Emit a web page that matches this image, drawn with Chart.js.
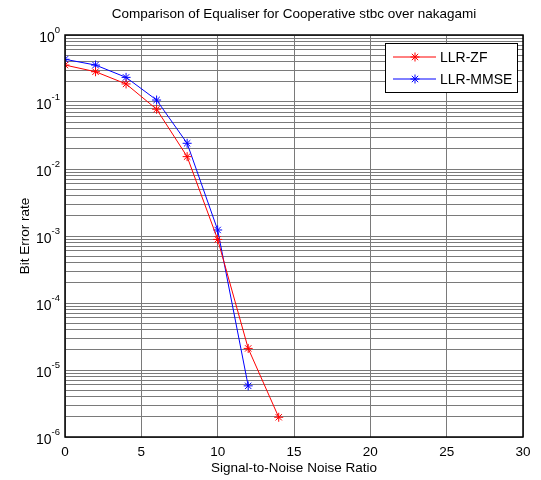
<!DOCTYPE html>
<html>
<head>
<meta charset="utf-8">
<script src="https://cdn.jsdelivr.net/npm/chart.js@4.4.0/dist/chart.umd.min.js"></script>
<style>
  body { margin: 0; background: #fff; }
  #wrap { width: 541px; height: 480px; }
</style>
</head>
<body>
<div id="wrap"><canvas id="myChart" width="541" height="480"></canvas></div>
<script>
// values
var snr = [0, 2, 4, 6, 8, 10, 12, 14];
var berZF = [0.356, 0.283, 0.186, 0.078, 0.0153, 0.00089, 0.000021, 0.00000197];
var berMMSE = [0.434, 0.356, 0.233, 0.107, 0.0242, 0.00123, 0.0000058];
var seriesNames = ["LLR-ZF", "LLR-MMSE"];
var seriesColors = ["#ff0000", "#0000ff"];
var xTicks = [0, 5, 10, 15, 20, 25, 30];
var yExponents = [0, -1, -2, -3, -4, -5, -6];

var titleText = "Comparison of Equaliser for Cooperative stbc over nakagami";
var xTitle = "Signal-to-Noise Noise Ratio";
var yTitle = "Bit Error rate";
var FONT = "'Liberation Sans', Arial, sans-serif";

function toPoints(xs, ys) {
  var pts = [];
  for (var i = 0; i < ys.length; i++) {
    pts.push({ x: xs[i], y: ys[i] });
  }
  return pts;
}

// draw axes box, tick labels, titles and the legend (matlab look)
var matlabDecor = {
  id: "matlabDecor",
  afterDraw: function(chart) {
    var ctx = chart.ctx;
    var area = chart.chartArea;
    var xs = chart.scales.x;
    var ys = chart.scales.y;
    ctx.save();

    // box
    ctx.strokeStyle = "#000";
    ctx.lineWidth = 1.5;
    ctx.strokeRect(area.left, area.top, area.right - area.left, area.bottom - area.top);

    ctx.fillStyle = "#000";
    // x tick labels
    ctx.font = "13.5px " + FONT;
    ctx.textAlign = "center";
    ctx.textBaseline = "top";
    xTicks.forEach(function(t) {
      ctx.fillText(String(t), xs.getPixelForValue(t), area.bottom + 9);
    });

    // y tick labels 10^n
    yExponents.forEach(function(e) {
      var py = ys.getPixelForValue(Math.pow(10, e));
      var expStr = String(e);
      ctx.font = "9.5px " + FONT;
      ctx.textAlign = "right";
      ctx.textBaseline = "alphabetic";
      var ew = ctx.measureText(expStr).width;
      ctx.fillText(expStr, area.left - 5, py - 2);
      ctx.font = "14px " + FONT;
      ctx.fillText("10", area.left - 5 - ew, py + 7);
    });

    // titles
    var cx = (area.left + area.right) / 2;
    ctx.textAlign = "center";
    ctx.textBaseline = "middle";
    ctx.font = "13.5px " + FONT;
    ctx.fillText(titleText, cx, 14);
    ctx.fillText(xTitle, cx, 468);
    ctx.save();
    ctx.translate(25, (area.top + area.bottom) / 2);
    ctx.rotate(-Math.PI / 2);
    ctx.fillText(yTitle, 0, 0);
    ctx.restore();

    // legend
    var lx = 385, ly = 43, lw = 132, lh = 49;
    ctx.fillStyle = "#fff";
    ctx.fillRect(lx, ly, lw, lh);
    ctx.strokeStyle = "#000";
    ctx.lineWidth = 1;
    ctx.strokeRect(lx + 0.5, ly + 0.5, lw, lh);
    ctx.font = "14px " + FONT;
    ctx.textAlign = "left";
    ctx.textBaseline = "middle";
    for (var i = 0; i < seriesNames.length; i++) {
      var rowY = ly + 14 + i * 22;
      ctx.strokeStyle = seriesColors[i];
      ctx.lineWidth = 1;
      ctx.beginPath();
      ctx.moveTo(lx + 8, rowY);
      ctx.lineTo(lx + 51, rowY);
      ctx.stroke();
      Chart.helpers.drawPoint(ctx, { pointStyle: "star", radius: 4.5, borderWidth: 1 }, lx + 30, rowY);
      ctx.fillStyle = "#000";
      ctx.fillText(seriesNames[i], lx + 55, rowY + 1);
    }
    ctx.restore();
  }
};

var yGridTicks = [];
for (var k = -6; k < 0; k++) {
  for (var m = 1; m <= 9; m++) {
    yGridTicks.push(m * Math.pow(10, k));
  }
}
yGridTicks.push(1);

var canvas = document.getElementById("myChart");
var myChart = new Chart(canvas, {
  type: "line",
  data: {
    datasets: [{
      label: seriesNames[0],
      data: toPoints(snr, berZF),
      borderColor: seriesColors[0],
      backgroundColor: seriesColors[0],
      borderWidth: 1,
      pointStyle: "star",
      pointRadius: 4.5,
      pointBorderWidth: 1,
      tension: 0
    }, {
      label: seriesNames[1],
      data: toPoints(snr, berMMSE),
      borderColor: seriesColors[1],
      backgroundColor: seriesColors[1],
      borderWidth: 1,
      pointStyle: "star",
      pointRadius: 4.5,
      pointBorderWidth: 1,
      tension: 0
    }]
  },
  options: {
    responsive: false,
    animation: false,
    layout: { padding: { left: 65, top: 35, right: 18, bottom: 43 } },
    plugins: {
      legend: { display: false },
      title: { display: false },
      tooltip: { enabled: false }
    },
    scales: {
      x: {
        type: "linear",
        min: 0,
        max: 30,
        ticks: { display: false, stepSize: 5 },
        grid: { color: "#7a7a7a", drawTicks: false, lineWidth: 1 },
        border: { display: false }
      },
      y: {
        type: "logarithmic",
        min: 1e-6,
        max: 1,
        ticks: { display: false },
        afterBuildTicks: function(scale) {
          scale.ticks = yGridTicks.map(function(v) { return { value: v }; });
        },
        grid: { color: "#7a7a7a", drawTicks: false, lineWidth: 1 },
        border: { display: false }
      }
    }
  },
  plugins: [matlabDecor]
});
</script>
</body>
</html>
